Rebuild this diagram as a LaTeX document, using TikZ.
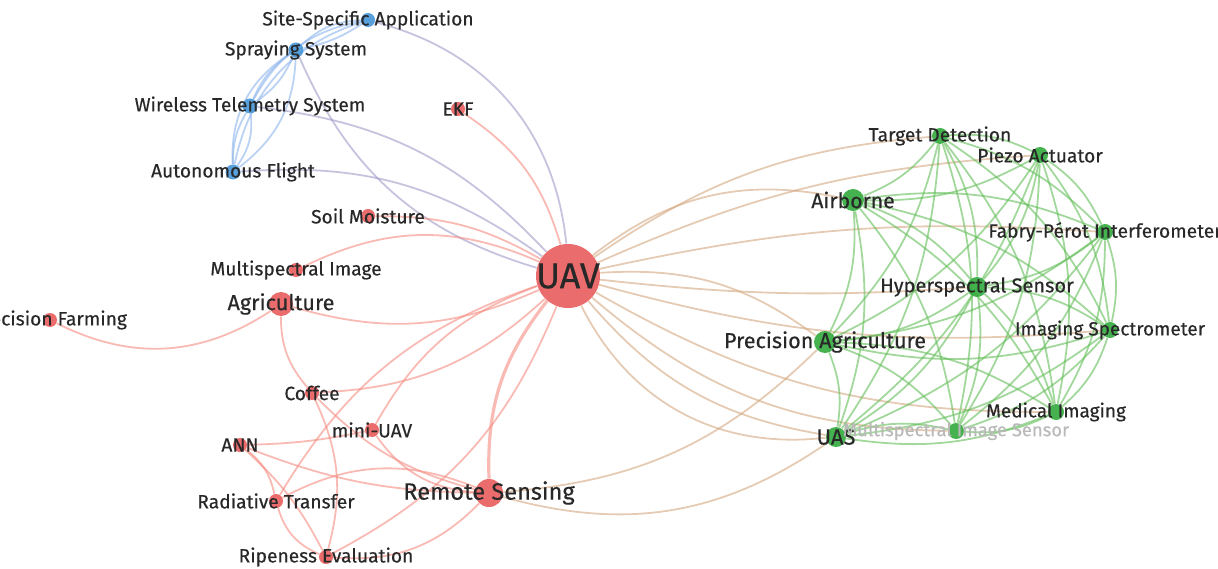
\documentclass[tikz,border=0pt]{standalone}
\usepackage{fontspec}
\setmainfont{Fira Sans}
\newfontfamily\labfont[FakeBold=0.4]{Fira Sans}
\usetikzlibrary{backgrounds}

\definecolor{vred}{RGB}{232,92,92}
\definecolor{vblue}{RGB}{70,150,215}
\definecolor{vgreen}{RGB}{50,170,60}
\definecolor{ered}{RGB}{245,140,130}
\definecolor{eblue}{RGB}{140,180,235}
\definecolor{egreen}{RGB}{100,190,90}
\definecolor{epurple}{RGB}{160,155,200}
\definecolor{ebrown}{RGB}{212,168,128}
\definecolor{labgray}{RGB}{40,40,40}

\tikzset{
  kw/.style={circle, inner sep=0pt, minimum size=#1, fill opacity=0.9},
  redkw/.style={kw=#1, fill=vred},
  bluekw/.style={kw=#1, fill=vblue},
  greenkw/.style={kw=#1, fill=vgreen},
  lab/.style={text=labgray, inner sep=0pt, font=\labfont\fontsize{#1}{#1}\selectfont},
  lab/.default=9.6,
  link/.style={line width=0.9pt, draw opacity=0.6},
  redlink/.style={link, draw=ered},
  bluelink/.style={link, draw=eblue},
  greenlink/.style={link, draw=egreen},
  purplelink/.style={link, draw=epurple},
  brownlink/.style={link, draw=ebrown}
}

\begin{document}
\begin{tikzpicture}[x=0.5pt, y=0.5pt]
\clip (0,0) rectangle (1218,568);
\useasboundingbox (0,0) rectangle (1218,568);

% keywords
\node[bluekw=7pt] (ssa) at (368,548) {};
\node[bluekw=7.5pt] (spr) at (296,518) {};
\node[bluekw=7.5pt] (wts) at (250,462) {};
\node[bluekw=7.5pt] (aut) at (233,396) {};
\node[redkw=7pt] (ekf) at (458,459) {};
\node[redkw=7pt] (soil) at (368,352) {};
\node[redkw=7pt] (msi) at (296,298) {};
\node[redkw=12pt] (agr) at (281,264) {};
\node[redkw=7pt] (pfm) at (50,248) {};
\node[redkw=32pt] (uav) at (568,292) {};
\node[redkw=7pt] (cof) at (312,175) {};
\node[redkw=7pt] (mini) at (372,138) {};
\node[redkw=7pt] (ann) at (240,123) {};
\node[redkw=7pt] (rtr) at (276,67) {};
\node[redkw=14pt] (rse) at (489,75) {};
\node[redkw=7pt] (rip) at (326,11) {};
\node[greenkw=8pt] (tdt) at (940,432) {};
\node[greenkw=8pt] (pzo) at (1040,413) {};
\node[greenkw=11pt] (abn) at (853,368) {};
\node[greenkw=8pt] (fpi) at (1105,336) {};
\node[greenkw=10pt] (hss) at (977,281) {};
\node[greenkw=8pt] (isp) at (1110,238) {};
\node[greenkw=11pt] (pag) at (825,226) {};
\node[greenkw=8pt] (mim) at (1056,156) {};
\node[greenkw=10pt] (uas) at (836,131) {};
\node[greenkw=8pt] (mss) at (956,137) {};

\begin{scope}[on background layer]
% blue cluster
\draw[bluelink] (ssa) to[bend right=20] (spr);
\draw[bluelink] (ssa) to[bend left=10] (spr);
\draw[bluelink] (ssa) to[bend right=25] (wts);
\draw[bluelink] (ssa) to[bend right=30] (aut);
\draw[bluelink] (spr) to[bend right=15] (wts);
\draw[bluelink] (spr) to[bend left=15] (wts);
\draw[bluelink] (spr) to[bend left=25] (aut);
\draw[bluelink] (spr) to[bend right=30] (aut);
\draw[bluelink] (wts) to[bend left=20] (aut);
\draw[bluelink] (wts) to[bend right=15] (aut);
% blue to red
\draw[purplelink] (ssa) to[bend left=35] (uav);
\draw[purplelink] (spr) to[bend right=25] (uav);
\draw[purplelink] (wts) to[bend left=20] (uav);
\draw[purplelink] (aut) to[bend left=20] (uav);
% red cluster
\draw[redlink] (ekf) to[bend left=20] (uav);
\draw[redlink] (soil) to[bend left=15] (uav);
\draw[redlink] (msi) to[bend left=25] (uav);
\draw[redlink] (agr) to[bend right=20] (uav);
\draw[redlink] (pfm) to[bend right=30] (agr);
\draw[redlink] (agr) to[bend right=20] (cof);
\draw[redlink] (cof) to[bend right=20] (uav);
\draw[redlink] (cof) to[bend right=15] (rse);
\draw[redlink] (cof) to[bend left=20] (rip);
\draw[redlink] (mini) to[bend left=20] (uav);
\draw[redlink] (mini) to[bend right=25] (rse);
\draw[redlink] (ann) to[bend right=5] (mini);
\draw[redlink] (ann) to[bend left=20] (rtr);
\draw[redlink] (ann) to[bend left=10] (rip);
\draw[redlink] (ann) to[bend right=10] (rse);
\draw[redlink] (rtr) to[bend left=20] (uav);
\draw[redlink] (rtr) to[bend left=25] (rse);
\draw[redlink] (rtr) to[bend right=25] (rip);
\draw[redlink] (rip) to[bend right=25] (rse);
\draw[redlink] (rip) to[bend right=20] (uav);
\draw[redlink, line width=1.6pt] (rse) to[bend left=20] (uav);
% red to green
\draw[brownlink] (uav) to[bend left=25] (abn);
\draw[brownlink] (uav) to[bend left=15] (tdt);
\draw[brownlink] (uav) to[bend left=10] (pzo);
\draw[brownlink] (uav) to[bend left=8] (fpi);
\draw[brownlink] (uav) to[bend left=20] (pag);
\draw[brownlink] (uav) to[bend right=5] (hss);
\draw[brownlink] (uav) to[bend right=10] (isp);
\draw[brownlink] (uav) to[bend right=20] (uas);
\draw[brownlink] (uav) to[bend right=35] (uas);
\draw[brownlink] (uav) to[bend right=15] (mim);
\draw[brownlink] (uav) to[bend right=20] (mss);
\draw[brownlink] (rse) to[bend right=20] (pag);
\draw[brownlink] (rse) to[bend right=25] (uas);
% green cluster
\foreach \a [count=\i] in {tdt,pzo,abn,fpi,hss,isp,pag,mim,uas,mss}{
  \foreach \b [count=\j] in {tdt,pzo,abn,fpi,hss,isp,pag,mim,uas,mss}{
    \ifnum\j>\i \draw[greenlink] (\a) to[bend left=15] (\b); \fi
  }
}
\end{scope}

% labels
\node[lab] (ssa-l) at (ssa) {Site-Specific Application};
\node[lab] (spr-l) at (spr) {Spraying System};
\node[lab] (wts-l) at (wts) {Wireless Telemetry System};
\node[lab] (aut-l) at (aut) {Autonomous Flight};
\node[lab] (ekf-l) at (ekf) {EKF};
\node[lab] (soil-l) at (soil) {Soil Moisture};
\node[lab] (msi-l) at (msi) {Multispectral Image};
\node[lab=10.8] (agr-l) at (agr) {Agriculture};
\node[lab] (pfm-l) at (pfm) {Precision Farming};
\node[lab=18] (uav-l) at (uav) {UAV};
\node[lab=11.8] (rse-l) at (rse) {Remote Sensing};
\node[lab] (cof-l) at (cof) {Coffee};
\node[lab] (mini-l) at (mini) {mini-UAV};
\node[lab] (ann-l) at (ann) {ANN};
\node[lab] (rtr-l) at (rtr) {Radiative Transfer};
\node[lab] (rip-l) at (rip) {Ripeness Evaluation};
\node[lab] (tdt-l) at (tdt) {Target Detection};
\node[lab] (pzo-l) at (pzo) {Piezo Actuator};
\node[lab=10.6] (abn-l) at (abn) {Airborne};
\node[lab] (fpi-l) at (fpi) {Fabry-Pérot Interferometer};
\node[lab=10] (hss-l) at (hss) {Hyperspectral Sensor};
\node[lab=9.5] (isp-l) at (isp) {Imaging Spectrometer};
\node[lab=10.8] (pag-l) at (pag) {Precision Agriculture};
\node[lab=9.5] (mim-l) at (mim) {Medical Imaging};
\node[lab=11] (uas-l) at (uas) {UAS};
\node[lab=9.2, text=gray!55] (mss-l) at (mss) {Multispectral Image Sensor};
\end{tikzpicture}
\end{document}
